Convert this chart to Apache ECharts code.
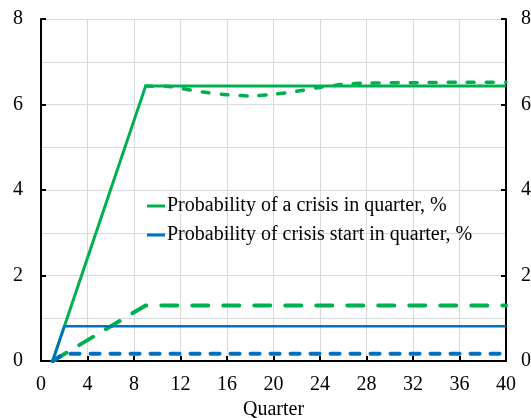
<!DOCTYPE html>
<html>
<head>
<meta charset="utf-8">
<script src="https://cdn.jsdelivr.net/npm/echarts@6/dist/echarts.min.js"></script>
<style>
  html, body { margin: 0; padding: 0; background: #fff; }
  #chart { width: 531px; height: 418px; }
</style>
</head>
<body>
<div id="chart"></div>
<script>
// crisis in quarter (solid green)
var crisisX = [1, 9, 40];
var crisisY = [0, 6.43, 6.43];
// crisis in quarter, alternative (dashed green, upper)
var crisisAltX = [9, 11, 12, 14, 16, 18, 20, 22, 24, 26, 28, 32, 36, 40];
var crisisAltY = [6.43, 6.42, 6.38, 6.29, 6.23, 6.2, 6.24, 6.31, 6.4, 6.47, 6.5, 6.51, 6.52, 6.52];
// crisis in quarter, alternative (dashed green, lower)
var crisisLowX = [1, 9, 40];
var crisisLowY = [0, 1.3, 1.3];
// crisis start (solid blue)
var startX = [1, 2, 40];
var startY = [0, 0.81, 0.81];
// crisis start, alternative (dotted blue)
var startAltX = [1, 2, 40];
var startAltY = [0, 0.17, 0.17];

var xTicks = [0, 4, 8, 12, 16, 20, 24, 28, 32, 36, 40];
var yTicks = [0, 2, 4, 6, 8];

var GREEN = '#00b050', BLUE = '#0070c0';
var FONT = 'Liberation Serif';

function pairs(xs, ys) {
    var out = [];
    for (var i = 0; i < xs.length; i++) out.push([xs[i], ys[i]]);
    return out;
}

var myChart = echarts.init(document.getElementById('chart'));

function yAxisOpt(pos) {
    return {
        type: 'value',
        position: pos,
        min: yTicks[0], max: yTicks[yTicks.length - 1], interval: 2,
        axisLine: { show: true, lineStyle: { color: '#000', width: 2 } },
        axisTick: { show: true, inside: true, length: 5, lineStyle: { color: '#000', width: 2 } },
        axisLabel: { color: '#000', fontFamily: FONT, fontSize: 20, margin: pos === 'left' ? 18 : 15 },
        splitLine: { show: pos === 'left', lineStyle: { color: '#d9d9d9', width: 1 } },
        minorTick: { show: false, splitNumber: 2 },
        minorSplitLine: { show: pos === 'left', lineStyle: { color: '#d9d9d9', width: 1 } }
    };
}

myChart.setOption({
    animation: false,
    backgroundColor: '#fff',
    grid: { left: 41, right: 25, top: 19, bottom: 57, containLabel: false, outerBoundsMode: 'none' },
    legend: {
        data: ['Probability of a crisis in quarter, %', 'Probability of crisis start in quarter, %'],
        orient: 'vertical',
        left: 142, top: 191,
        itemWidth: 18, itemHeight: 3, itemGap: 9,
        icon: 'rect',
        textStyle: { color: '#000', fontFamily: FONT, fontSize: 20, padding: [0, 0, 0, -3] }
    },
    xAxis: {
        type: 'value',
        min: xTicks[0], max: xTicks[xTicks.length - 1], interval: 4,
        name: 'Quarter', nameLocation: 'middle', nameGap: 39,
        nameTextStyle: { color: '#000', fontFamily: FONT, fontSize: 20 },
        axisLine: { show: true, lineStyle: { color: '#000', width: 2 } },
        axisTick: { show: true, inside: true, length: 5, lineStyle: { color: '#000', width: 2 } },
        axisLabel: { color: '#000', fontFamily: FONT, fontSize: 20, margin: 14 },
        splitLine: { show: true, lineStyle: { color: '#d9d9d9', width: 1 } }
    },
    yAxis: [yAxisOpt('left'), yAxisOpt('right')],
    series: [
        {
            name: 'Probability of a crisis in quarter, %', type: 'line',
            data: pairs(crisisX, crisisY), showSymbol: false, symbol: 'none',
            lineStyle: { color: GREEN, width: 3 }, itemStyle: { color: GREEN }, z: 5
        },
        {
            name: 'crisis alt', type: 'line', smooth: 0.3,
            data: pairs(crisisAltX, crisisAltY), symbol: 'none',
            lineStyle: { color: GREEN, width: 3.5, type: [7, 12], cap: 'round' }, z: 4
        },
        {
            name: 'crisis low', type: 'line',
            data: pairs(crisisLowX, crisisLowY), symbol: 'none',
            lineStyle: { color: GREEN, width: 4, type: [16, 15], cap: 'round' }, z: 4
        },
        {
            name: 'Probability of crisis start in quarter, %', type: 'line',
            data: pairs(startX, startY), showSymbol: false, symbol: 'none',
            lineStyle: { color: BLUE, width: 2.5 }, itemStyle: { color: BLUE }, z: 5
        },
        {
            name: 'start alt', type: 'line',
            data: pairs(startAltX, startAltY), symbol: 'none',
            lineStyle: { color: BLUE, width: 4, type: [9, 11], cap: 'round' }, z: 4
        }
    ]
});
</script>
</body>
</html>
